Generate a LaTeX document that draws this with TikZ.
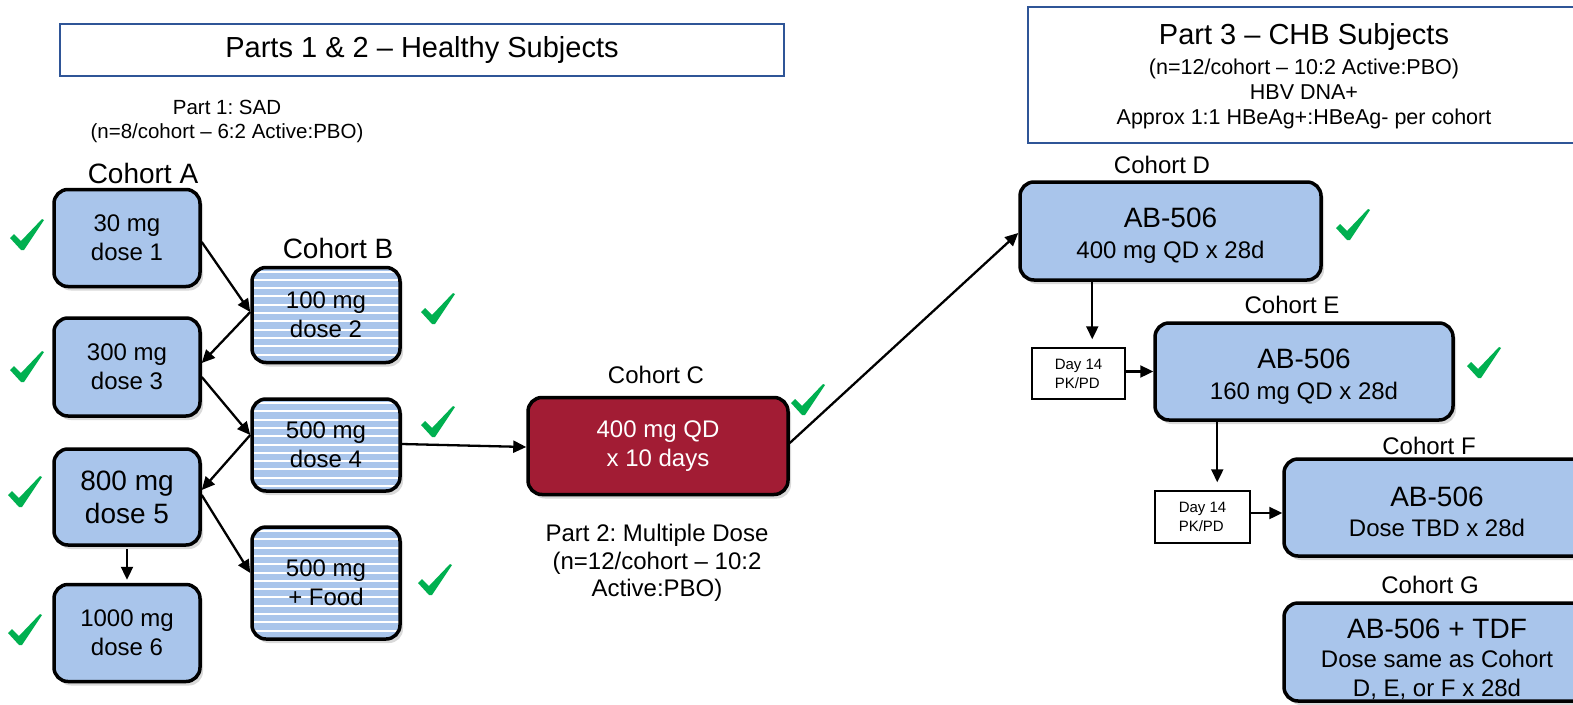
\documentclass[tikz,border=0pt]{standalone}
\usepackage{fontspec}
\setmainfont{Liberation Sans}
\usetikzlibrary{arrows.meta,shadows,calc}
\definecolor{boxblue}{RGB}{169,197,235}
\definecolor{boxred}{RGB}{162,28,52}
\definecolor{chkgreen}{RGB}{0,176,80}
\definecolor{titleblue}{RGB}{47,85,151}
\newcommand{\myfs}[2]{\fontsize{#1}{#2}\selectfont}
\frenchspacing
\begin{document}
\begin{tikzpicture}[x=1pt,y=-1pt,
  cbox/.style={draw=black, line width=3.5pt, rounded corners=14pt, fill=boxblue, align=center, inner sep=0pt,
     font=\myfs{24}{29},
     drop shadow={shadow xshift=3pt, shadow yshift=-4pt, opacity=0.25, fill=black!60}},
  striped/.style={cbox, path picture={\foreach \yy in {4,12.3,...,130} {\draw[white,line width=2pt] ([yshift=-\yy pt]path picture bounding box.north west) -- ([yshift=-\yy pt]path picture bounding box.north east);}}},
  redbox/.style={cbox, fill=boxred, text=white},
  lbl/.style={inner sep=0pt, align=center},
  arr/.style={-{Triangle[length=13pt,width=12pt]}, line width=2.3pt},
  daybox/.style={draw=black, line width=1.5pt, fill=white, align=left, inner sep=0pt, font=\myfs{15}{19}},
  chk/.pic={\fill[chkgreen] (-17,3) -- (-13,-1) -- (-6,6) -- (15,-16) -- (17,-15) -- (-3,15) -- (-6,15) -- cycle;}
]
\useasboundingbox (0,0) rectangle (1573,704);

% title boxes
\node[draw=titleblue, line width=1.5pt, minimum width=724, minimum height=52, inner sep=0pt, font=\myfs{29}{33}] (T1) at (422,50) {Parts 1 \& 2 – Healthy Subjects};
\node[draw=titleblue, line width=1.5pt, minimum width=567, minimum height=136, inner sep=0pt] (T3) at (1311.5,75) {};
\node[lbl, font=\myfs{29}{33}] (T3a) at (1304,37) {Part 3 – CHB Subjects};
\node[lbl, font=\myfs{21.5}{25}] (T3b) at (1304,94) {(n=12/cohort – 10:2 Active:PBO)\\HBV DNA+\\Approx 1:1 HBeAg+:HBeAg- per cohort};

\node[lbl, font=\myfs{20.5}{24}] (P1) at (227,121) {Part 1: SAD\\(n=8/cohort – 6:2 Active:PBO)};
\node[lbl, font=\myfs{24}{27.5}] (P2) at (657,563) {Part 2: Multiple Dose\\(n=12/cohort – 10:2\\Active:PBO)};

% cohort labels
\node[lbl, font=\myfs{28}{32}] (LA) at (143,173) {Cohort A};
\node[lbl, font=\myfs{28}{32}] (LB) at (338,248) {Cohort B};
\node[lbl, font=\myfs{24}{28}] (LC) at (656,375) {Cohort C};
\node[lbl, font=\myfs{24}{28}] (LD) at (1162,165) {Cohort D};
\node[lbl, font=\myfs{24}{28}] (LE) at (1292,305) {Cohort E};
\node[lbl, font=\myfs{24}{28}] (LF) at (1429,446) {Cohort F};
\node[lbl, font=\myfs{24}{28}] (LG) at (1430,585) {Cohort G};

% boxes
\node[cbox, minimum width=146, minimum height=97] (A1) at (127,238) {30 mg\\dose 1};
\node[cbox, minimum width=146, minimum height=98] (A3) at (127,367) {300 mg\\dose 3};
\node[cbox, minimum width=146, minimum height=96, font=\myfs{28}{33}] (A5) at (127,497) {800 mg\\dose 5};
\node[cbox, minimum width=146, minimum height=97] (A6) at (127,633) {1000 mg\\dose 6};
\node[striped, minimum width=148, minimum height=95] (B2) at (326,315) {100 mg\\dose 2};
\node[striped, minimum width=148, minimum height=92] (B4) at (326,445) {500 mg\\dose 4};
\node[striped, minimum width=148, minimum height=112] (B5) at (326,583) {500 mg\\+ Food};
\node[redbox, minimum width=260, minimum height=97] (C) at (658,446) {400 mg QD\\x 10 days};
\node[cbox, minimum width=301, minimum height=98] (D) at (1170.5,231) {};
\node[lbl, font=\myfs{24}{31}] (Dt) at (1170.5,236) {{\myfs{28}{31}AB-506}\\400 mg QD x 28d};
\node[cbox, minimum width=298, minimum height=97] (E) at (1304,371.5) {};
\node[lbl, font=\myfs{24}{31}] (Et) at (1304,376.5) {{\myfs{28}{31}AB-506}\\160 mg QD x 28d};
\node[cbox, minimum width=306, minimum height=97] (F) at (1437,507.5) {};
\node[lbl, font=\myfs{24}{30}] (Ft) at (1437,511.5) {{\myfs{28}{30}AB-506}\\Dose TBD x 28d};
\node[cbox, minimum width=306, minimum height=98] (G) at (1437,652) {};
\node[lbl, font=\myfs{24}{29}] (Gt) at (1437,659) {{\myfs{28}{29}AB-506 + TDF}\\Dose same as Cohort\\D, E, or F x 28d};
\node[daybox, minimum width=93, minimum height=51] (Day1) at (1078.5,373.5) {Day 14\\PK/PD};
\node[daybox, minimum width=95, minimum height=52] (Day2) at (1202.5,517) {Day 14\\PK/PD};

% arrows
\draw[arr] ($(A1.east)+(0,4)$) -- ($(B2.west)+(0,-3)$);
\draw[arr] ($(B2.west)+(0,-3)$) -- ($(A3.east)+(0,-4)$);
\draw[arr] ($(A3.east)+(0,10)$) -- ($(B4.west)+(0,-10)$);
\draw[arr] ($(B4.west)+(0,-10)$) -- ($(A5.east)+(0,-7)$);
\draw[arr] ($(A5.east)+(0,-2)$) -- ($(B5.west)+(0,-10)$);
\draw[arr] ($(A5.south)+(0,2)$) -- ($(A6.north)+(0,-3)$);
\draw[arr] ($(B4.east)+(0,-1)$) -- ($(C.west)+(0,1)$);
\draw[arr] ($(C.east)+(0,-3)$) -- ($(D.west)+(0,2)$);
\coordinate (dd) at ($(D.south west)+(74,0)$);
\draw[arr, shorten >=8pt] (dd) -- (dd |- Day1.north);
\draw[arr] ($(Day1.east)+(0,-2)$) -- ($(Day1.east -| E.west)+(0,-2)$);
\coordinate (ee) at ($(E.south west)+(64,0)$);
\draw[arr, shorten >=8pt] (ee) -- (ee |- Day2.north);
\draw[arr] ($(Day2.east)+(0,-4)$) -- ($(Day2.east -| F.west)+(0,-4)$);

% checks
\pic at (27,235) {chk};
\pic at (27,367) {chk};
\pic at (438,309) {chk};
\pic at (438,422) {chk};
\pic at (25,492) {chk};
\pic at (25,630) {chk};
\pic at (435,580) {chk};
\pic at (808,400) {chk};
\pic at (1353,225) {chk};
\pic at (1484,363) {chk};
\end{tikzpicture}
\end{document}
